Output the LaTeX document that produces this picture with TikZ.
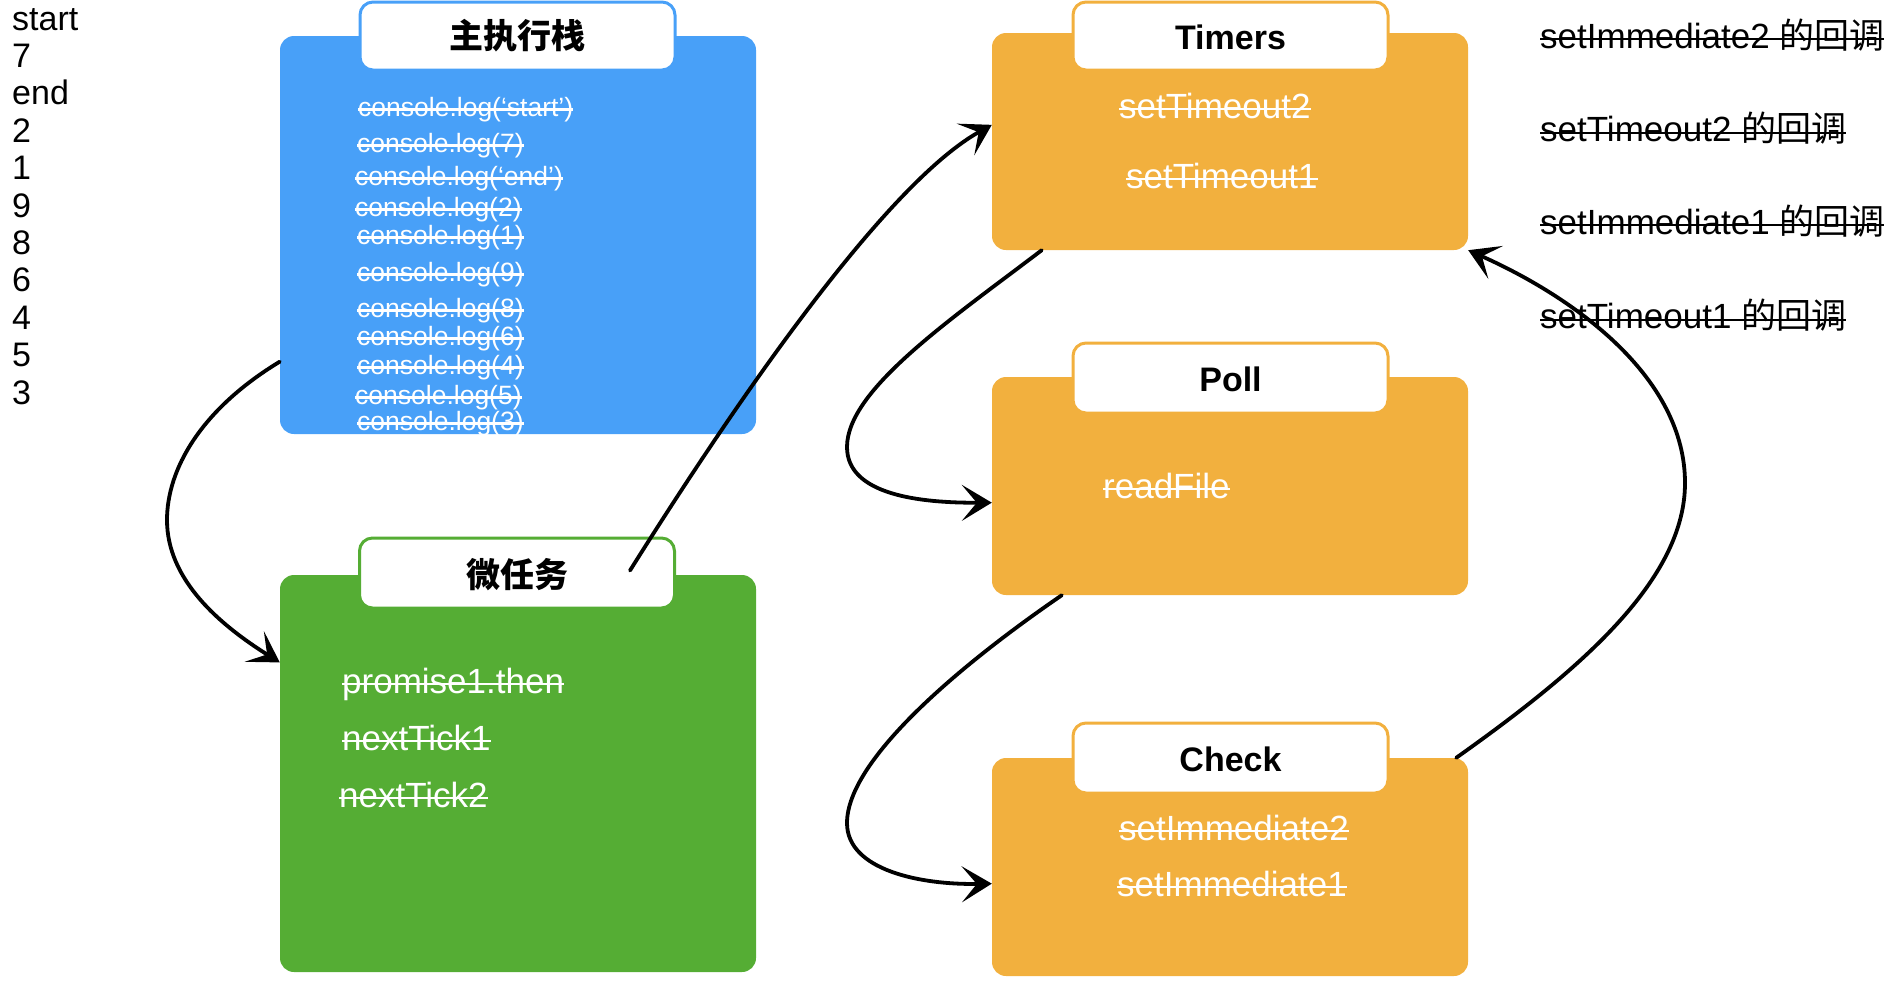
\documentclass[tikz,border=0pt]{standalone}
\usepackage{fontspec}
\setmainfont{Liberation Sans}
\newfontfamily\cjk{Noto Sans CJK SC}
\usetikzlibrary{arrows.meta,calc}
\definecolor{cblue}{RGB}{72,160,248}
\definecolor{cgreen}{RGB}{85,173,52}
\definecolor{corange}{RGB}{242,176,62}
\newsavebox\strkbox
\newcommand\strk[1]{\sbox\strkbox{#1}\rlap{\usebox\strkbox}\rule[\dimexpr0.25em-1.15pt\relax]{\wd\strkbox}{2.3pt}}
\tikzset{
  panelbox/.style={rounded corners=14pt, inner sep=0pt, minimum width=476pt},
  tabbox/.style={fill=white, line width=3pt, rounded corners=13pt, inner sep=0pt, minimum width=315pt, minimum height=68pt},
  ttl/.style={anchor=base, inner sep=0pt, font=\bfseries\fontsize{34}{40}\selectfont},
  itemtxt/.style={anchor=base west, inner sep=0pt, text=white, font=\fontsize{35}{42}\selectfont},
  logtxt/.style={anchor=base west, inner sep=0pt, text=white, font=\fontsize{26.5}{32}\selectfont},
  notetxt/.style={anchor=base west, inner sep=0pt, font=\fontsize{35}{42}\selectfont},
  outtxt/.style={anchor=base west, inner sep=0pt, font=\fontsize{34}{40}\selectfont},
  flow/.style={draw=black, line width=3.8pt, line cap=round, -{Stealth[length=30pt,width=36pt,inset=15pt]}},
}
\begin{document}
\begin{tikzpicture}[x=1pt,y=-1pt]
\useasboundingbox (0,0) rectangle (1898,988);

% output column
\foreach \t [count=\i from 0] in {start,7,end,2,1,9,8,6,4,5,3}
  \node[outtxt] (out\i) at (12,{30+37.4*\i}) {\t};

% main stack
\node[panelbox, fill=cblue, minimum height=398pt] (stack) at (518,235) {};
\node[tabbox, draw=cblue] (stab) at (517.5,36) {};
\node[ttl] (stitle) at (517.5,48.5) {\cjk 主执行栈};
\node[logtxt] (s1) at (358,116) {\strk{console.log(‘start’)}};
\node[logtxt] (s2) at (357,152) {\strk{console.log(7)}};
\node[logtxt] (s3) at (355,185) {\strk{console.log(‘end’)}};
\node[logtxt] (s4) at (355,216) {\strk{console.log(2)}};
\node[logtxt] (s5) at (357,244) {\strk{console.log(1)}};
\node[logtxt] (s6) at (357,281) {\strk{console.log(9)}};
\node[logtxt] (s7) at (357,317) {\strk{console.log(8)}};
\node[logtxt] (s8) at (357,345) {\strk{console.log(6)}};
\node[logtxt] (s9) at (357,374) {\strk{console.log(4)}};
\node[logtxt] (s10) at (355,404) {\strk{console.log(5)}};
\node[logtxt] (s11) at (357,430) {\strk{console.log(3)}};

% micro tasks
\node[panelbox, fill=cgreen, minimum height=397pt] (micro) at (518,773.5) {};
\node[tabbox, draw=cgreen, minimum height=70pt] (mtab) at (517,573) {};
\node[ttl] (mtitle) at (517,587) {\cjk 微任务};
\node[itemtxt] (m1) at (342,693) {\strk{promise1.then}};
\node[itemtxt] (m2) at (342,750) {\strk{nextTick1}};
\node[itemtxt] (m3) at (339,807) {\strk{nextTick2}};

% timers
\node[panelbox, fill=corange, minimum height=217pt] (timers) at (1230,141.5) {};
\node[tabbox, draw=corange] (ttab) at (1230.5,36) {};
\node[ttl] (ttitle) at (1230.5,49) {Timers};
\node[itemtxt] (t1) at (1119,118) {\strk{setTimeout2}};
\node[itemtxt] (t2) at (1126,188) {\strk{setTimeout1}};

% poll
\node[panelbox, fill=corange, minimum height=218pt] (poll) at (1230,486) {};
\node[tabbox, draw=corange, minimum height=70pt] (ptab) at (1230.5,378) {};
\node[ttl] (ptitle) at (1230.5,391.5) {Poll};
\node[itemtxt] (p1) at (1103,498) {\strk{readFile}};

% check
\node[panelbox, fill=corange, minimum height=218pt] (check) at (1230,867) {};
\node[tabbox, draw=corange, minimum height=70pt] (ctab) at (1230.5,758) {};
\node[ttl] (ctitle) at (1230.5,771.5) {Check};
\node[itemtxt] (c1) at (1119,840) {\strk{setImmediate2}};
\node[itemtxt] (c2) at (1117,896) {\strk{setImmediate1}};

% callbacks
\node[notetxt] (r1) at (1540,48) {\strk{setImmediate2 {\cjk 的回调}}};
\node[notetxt] (r2) at (1540,141.5) {\strk{setTimeout2 {\cjk 的回调}}};
\node[notetxt] (r3) at (1540,234) {\strk{setImmediate1 {\cjk 的回调}}};
\node[notetxt] (r4) at (1540,328.5) {\strk{setTimeout1 {\cjk 的回调}}};

% connectors
\coordinate (a2s) at ($(mtab.north east)+(-46,34)$);
\coordinate (a5s) at ($(check.north east)+(-12,0)$);
\draw[flow] (stack.208.6) .. controls (200,410) and (167,470) .. (167,520)
  .. controls (167,580) and (220,625) .. (micro.155.1);
\draw[flow] (a2s) .. controls (720,427) and (880,187) .. (timers.176.7);
\draw[flow] (timers.210.4) .. controls (950,320) and (847,390) .. (847,447)
  .. controls (847,495) and (920,503) .. (poll.184.1);
\draw[flow] (poll.213.8) .. controls (960,665) and (847,760) .. (847,823)
  .. controls (847,870) and (920,885) .. (check.184.8);
\draw[flow] (a5s) .. controls (1580,670) and (1685,580) .. (1685,483)
  .. controls (1685,380) and (1580,300) .. (timers.south east);
\end{tikzpicture}
\end{document}
